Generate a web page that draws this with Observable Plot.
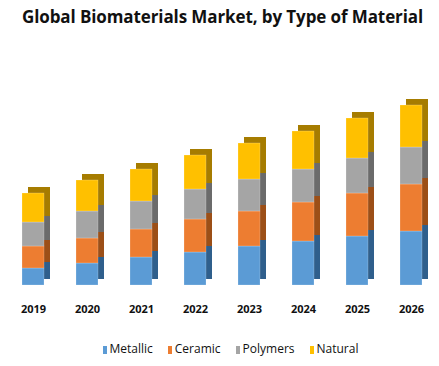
<!DOCTYPE html>
<html>
<head>
<meta charset="utf-8">
<script src="https://cdn.jsdelivr.net/npm/d3@7"></script>
<script src="https://cdn.jsdelivr.net/npm/@observablehq/plot@0.6"></script>
<style>
  body { margin: 0; background: #fff; width: 439px; height: 366px; overflow: hidden; font-family: "Open Sans", sans-serif; }
  #title { height: 34px; line-height: 34px; text-align: center; font-weight: 700; font-size: 17px; color: #111; letter-spacing: -0.1px; padding-left: 6px; }
  #legend { display: flex; justify-content: center; gap: 15px; font-size: 12px; color: #111; margin-top: 3px; height: 30px; align-items: center; padding-left: 22px; }
  #legend span.sw { display: inline-block; width: 4px; height: 8px; margin-right: 3px; vertical-align: -1px; }
</style>
</head>
<body>
<div id="title">Global Biomaterials Market, by Type of Material</div>
<div id="chart"></div>
<div id="legend"></div>
<script>
const years = ["2019", "2020", "2021", "2022", "2023", "2024", "2025", "2026"];
const seriesNames = ["Metallic", "Ceramic", "Polymers", "Natural"];
const metallic = [17, 22, 28, 33, 39, 44, 49, 54];
const ceramic  = [22, 25, 28, 33, 35, 39, 43, 47];
const polymers = [24, 27, 28, 30, 32, 33, 35, 37];
const natural  = [29, 31, 32, 34, 36, 38, 40, 42];
const frontColors = ["#5b9bd5", "#ed7d31", "#a5a5a5", "#ffc000"];
const sideColors  = ["#2f5f8c", "#9c4f17", "#6b6b6b", "#a67c00"];

const values = [metallic, ceramic, polymers, natural];
const data = [];
seriesNames.forEach((s, i) => years.forEach((y, j) => data.push({year: y, series: s, value: values[i][j]})));

const depth = 6;
const opts = {x: "year", y: "value", fill: "series", order: seriesNames};
const chart = Plot.plot({
  width: 439,
  height: 296,
  marginTop: 31,
  marginBottom: 45,
  marginLeft: 22,
  marginRight: 17,
  x: {domain: years, paddingInner: 0.593, paddingOuter: 0, label: null, tickSize: 0, tickPadding: 20},
  y: {domain: [0, 220], axis: null},
  color: {domain: seriesNames, range: sideColors},
  style: {fontFamily: "Open Sans, sans-serif", fontSize: "11px", fontWeight: 600, color: "#111"},
  marks: [
    Plot.barY(data, {...opts, dx: depth, dy: -depth}),
    Plot.barY(data, {...opts, fill: d => frontColors[seriesNames.indexOf(d.series)], stroke: "#ffffff", strokeOpacity: 0.35, strokeWidth: 0.6}),
    Plot.axisX({tickSize: 0, tickPadding: 20, fontWeight: 700})
  ]
});
document.getElementById("chart").appendChild(chart);

const legend = document.getElementById("legend");
seriesNames.forEach((s, i) => {
  const item = document.createElement("div");
  item.innerHTML = `<span class="sw" style="background:${frontColors[i]}"></span>${s}`;
  legend.appendChild(item);
});
</script>
</body>
</html>
